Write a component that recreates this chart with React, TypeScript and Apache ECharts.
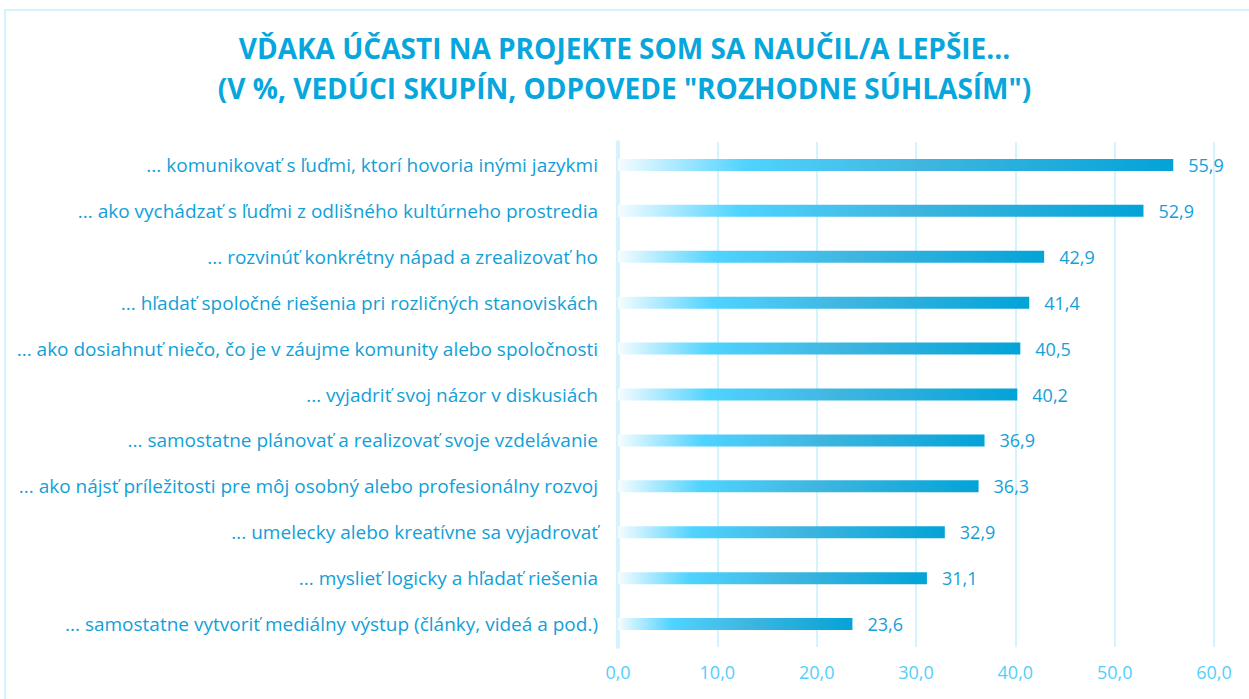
import React, { useEffect, useRef } from "react";
import * as echarts from "echarts";

const titleLines = [
  "VĎAKA ÚČASTI NA PROJEKTE SOM SA NAUČIL/A LEPŠIE...",
  '(V %, VEDÚCI SKUPÍN, ODPOVEDE "ROZHODNE SÚHLASÍM")',
];

const categories = [
  "... komunikovať s ľuďmi, ktorí hovoria inými jazykmi",
  "... ako vychádzať s ľuďmi z odlišného kultúrneho prostredia",
  "... rozvinúť konkrétny nápad a zrealizovať ho",
  "... hľadať spoločné riešenia pri rozličných stanoviskách",
  "... ako dosiahnuť niečo, čo je v záujme komunity alebo spoločnosti",
  "... vyjadriť svoj názor v diskusiách",
  "... samostatne plánovať a realizovať svoje vzdelávanie",
  "... ako nájsť príležitosti pre môj osobný alebo profesionálny rozvoj",
  "... umelecky alebo kreatívne sa vyjadrovať",
  "... myslieť logicky a hľadať riešenia",
  "... samostatne vytvoriť mediálny výstup (články, videá a pod.)",
];

const values = [55.9, 52.9, 42.9, 41.4, 40.5, 40.2, 36.9, 36.3, 32.9, 31.1, 23.6];

const FONT = "'Open Sans', 'Noto Sans', sans-serif";

export default function App() {
  const ref = useRef<HTMLDivElement>(null);
  useEffect(() => {
    document.body.style.margin = "0";
    const chart = echarts.init(ref.current!, undefined, { renderer: "svg" });
    chart.setOption({
      animation: false,
      backgroundColor: "#ffffff",
      graphic: [
        {
          type: "rect",
          shape: { x: 5, y: 10, width: 1260, height: 710 },
          style: { fill: "none", stroke: "#d3f3fd", lineWidth: 2 },
          silent: true,
        },
      ],
      title: {
        text: titleLines.join("\n"),
        left: "center",
        top: 28,
        padding: 0,
        textStyle: {
          color: "#07a6dc",
          fontSize: 28,
          fontWeight: "bold",
          fontFamily: FONT,
          lineHeight: 40,
        },
      },
      grid: { left: 618, right: 35, top: 142, bottom: 52, containLabel: false },
      xAxis: {
        type: "value",
        min: 0,
        max: 60,
        interval: 10,
        axisLine: { show: false },
        axisTick: { show: false },
        splitLine: { show: true, lineStyle: { color: "#d5f3fc", width: 2 } },
        axisLabel: {
          formatter: (v: number) => v.toFixed(1).replace(".", ","),
          color: "#52cffd",
          fontSize: 18,
          fontFamily: FONT,
          margin: 16,
        },
      },
      yAxis: {
        type: "category",
        data: categories,
        inverse: true,
        axisLine: { show: true, lineStyle: { color: "#d5f3fc", width: 4 } },
        axisTick: { show: false },
        axisLabel: {
          color: "#119fd8",
          fontSize: 19,
          fontFamily: FONT,
          margin: 20,
        },
      },
      series: [
        {
          type: "bar",
          data: values,
          barWidth: 12,
          itemStyle: {
            color: new echarts.graphic.LinearGradient(0, 0, 1, 0, [
              { offset: 0, color: "#f5fcff" },
              { offset: 0.23, color: "#4fd3ff" },
              { offset: 0.55, color: "#3fb6e0" },
              { offset: 1, color: "#03a3d8" },
            ]),
          },
          label: {
            show: true,
            position: "right",
            distance: 15,
            color: "#15a0d8",
            fontSize: 18,
            fontFamily: FONT,
            formatter: (p: any) => p.value.toFixed(1).replace(".", ","),
          },
        },
      ],
    });
    return () => chart.dispose();
  }, []);
  return <div ref={ref} style={{ width: 1249, height: 699 }} />;
}
